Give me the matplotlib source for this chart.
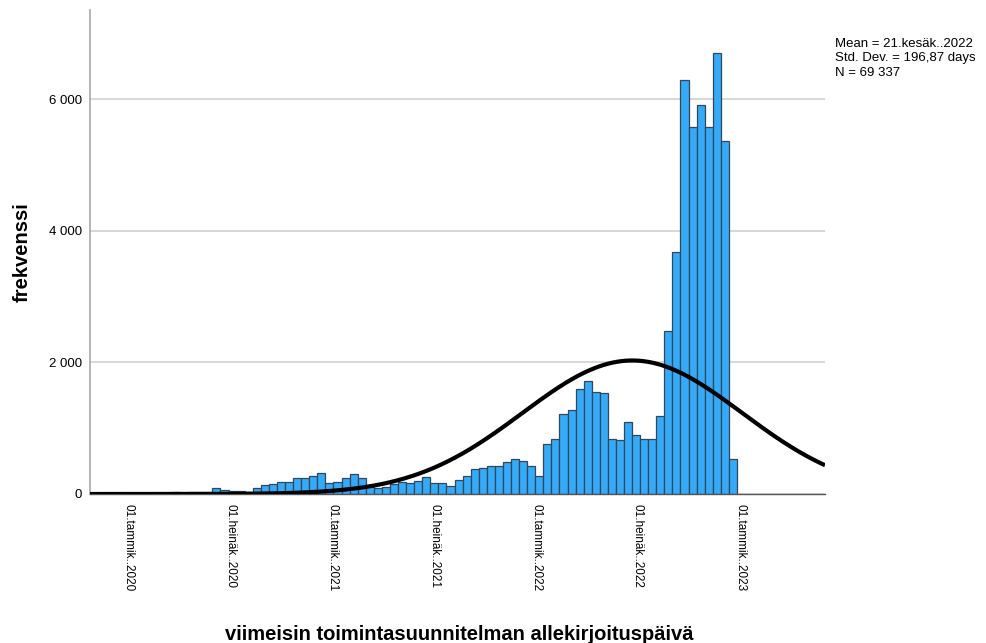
import numpy as np
import matplotlib
matplotlib.use('Agg')
import matplotlib.pyplot as plt
import matplotlib.dates as mdates
import pandas as pd

plt.rcParams['font.family'] = ['Liberation Sans', 'DejaVu Sans']

# histogrammin luokat: ensimmäinen reuna ja luokan leveys (päivinä)
first_edge = pd.Timestamp('2019-10-26 10:00')
bin_days = 14.45
counts = [0, 0, 0, 0, 0, 0, 2, 4, 6, 10,
          25, 15, 25, 30, 38, 90, 58, 52, 40, 35,
          86, 130, 156, 190, 190, 238, 238, 275, 315, 172,
          188, 248, 308, 248, 110, 92, 102, 148, 178, 163,
          199, 254, 173, 173, 122, 219, 275, 376, 402, 432,
          432, 493, 530, 497, 432, 280, 756, 842, 1223, 1284,
          1603, 1719, 1547, 1537, 842, 822, 1091, 903, 842, 840,
          1186, 2480, 3685, 6289, 5575, 5916, 5575, 6702, 5373, 538]

mean_date = pd.Timestamp('2022-06-21')
std_days = 196.87
n_total = 69337

tick_dates = ['2020-01-01', '2020-07-01', '2021-01-01', '2021-07-01',
              '2022-01-01', '2022-07-01', '2023-01-01']
tick_labels = ['01.tammik..2020', '01.heinäk..2020', '01.tammik..2021', '01.heinäk..2021',
               '01.tammik..2022', '01.heinäk..2022', '01.tammik..2023']
y_ticks = [0, 2000, 4000, 6000]
y_labels = ['0', '2 000', '4 000', '6 000']

x_start = pd.Timestamp('2019-10-24')
x_end = pd.Timestamp('2023-06-01')

fig = plt.figure(figsize=(9.87, 6.43), dpi=100)
ax = fig.add_axes([90/987, 1-494/643, (825-90)/987, (494-10)/643])

edges = [mdates.date2num(first_edge) + i*bin_days for i in range(len(counts))]
ax.bar(edges, counts, width=bin_days, align='edge', color='#34aaf8',
       edgecolor='#33475a', linewidth=0.9, zorder=2)

# normaalijakaumakäyrä tilastoluvuista
xs = np.linspace(mdates.date2num(x_start), mdates.date2num(x_end), 500)
mu = mdates.date2num(mean_date)
ys = n_total*bin_days/(std_days*np.sqrt(2*np.pi))*np.exp(-0.5*((xs-mu)/std_days)**2)
ax.plot(xs, ys, color='black', lw=3.0, zorder=3, solid_capstyle='butt')

ax.set_xlim(mdates.date2num(x_start), mdates.date2num(x_end))
ax.set_ylim(0, 7360)
ax.set_xticks([mdates.date2num(pd.Timestamp(d)) for d in tick_dates])
ax.set_xticklabels(tick_labels, rotation=-90, fontsize=8.5, va='top', ha='center')
ax.set_yticks(y_ticks)
ax.set_yticklabels(y_labels, fontsize=9.5)
ax.tick_params(axis='y', length=0, pad=6)
ax.tick_params(axis='x', length=0, pad=7)

ax.grid(axis='y', color='#d4d4d4', lw=1.3, zorder=0)
ax.set_axisbelow(True)
for s in ['top', 'right']:
    ax.spines[s].set_visible(False)
ax.spines['left'].set_color('#a8a8a8')
ax.spines['left'].set_linewidth(1.2)
ax.spines['bottom'].set_color('#555555')
ax.spines['bottom'].set_linewidth(1.0)

ax.set_ylabel('frekvenssi', fontsize=14.5, fontweight='bold', labelpad=12)
fig.text((228+690)/2/987, 1-634/643, 'viimeisin toimintasuunnitelman allekirjoituspäivä',
         fontsize=14.5, fontweight='bold', ha='center', va='center')

fig.text(835/987, 1-38/643, 'Mean = 21.kesäk..2022\nStd. Dev. = 196,87 days\nN = 69 337',
         fontsize=9.5, ha='left', va='top', linespacing=1.25)

fig.savefig('out.png', dpi=100)
